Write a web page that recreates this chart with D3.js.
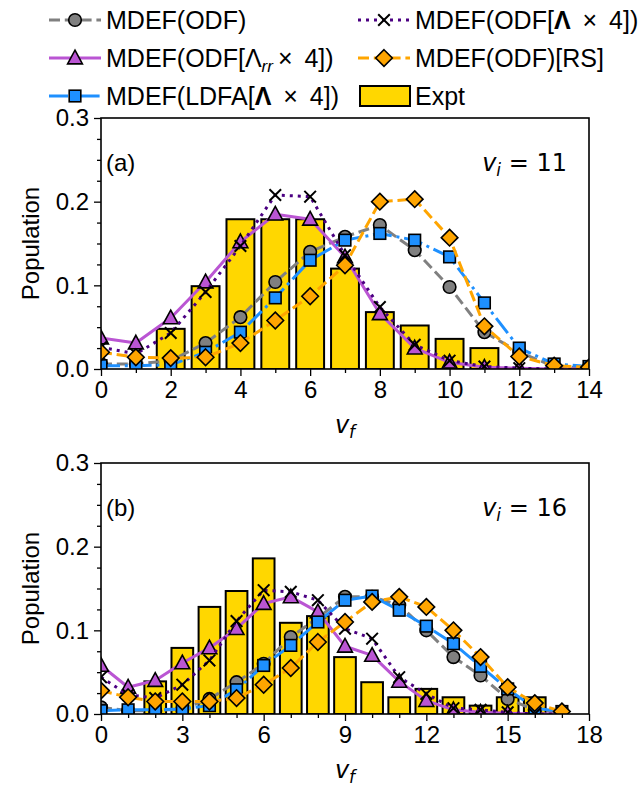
<!DOCTYPE html>
<html><head><meta charset="utf-8">
<script src="https://cdn.jsdelivr.net/npm/d3@7"></script>
<style>body{margin:0;background:#fff}</style>
</head><body><svg id="c" width="641" height="788"></svg>
<script>
// ---- data ----
const vfA = [0,1,2,3,4,5,6,7,8,9,10,11,12,13,14];
const exptA = [0,0,0.048,0.099,0.179,0.179,0.179,0.12,0.068,0.052,0.036,0.025,0,0,0];
const odfA = [0.006,0.006,0.01,0.031,0.062,0.104,0.14,0.158,0.172,0.142,0.098,0.044,0.02,0.003,0.001];
const lrrA = [0.037,0.031,0.061,0.104,0.152,0.185,0.179,0.134,0.066,0.025,0.008,0.002,0.001,0,0];
const ldfaA = [0.004,0.004,0.005,0.02,0.044,0.085,0.13,0.154,0.162,0.154,0.134,0.079,0.025,0.006,0.003];
const lamA = [0.026,0.018,0.043,0.092,0.147,0.208,0.206,0.136,0.074,0.029,0.01,0.003,0.001,0,0];
const rsA = [0.02,0.014,0.013,0.014,0.031,0.058,0.087,0.124,0.2,0.203,0.157,0.051,0.015,0.004,0.002];

const vfB = [0,1,2,3,4,5,6,7,8,9,10,11,12,13,14,15,16,17];
const exptB = [0,0,0.039,0.079,0.128,0.147,0.186,0.109,0.117,0.068,0.038,0.02,0.03,0.02,0.01,0.02,0.02,0];
const odfB = [0.008,0.004,0.004,0.006,0.018,0.038,0.06,0.092,0.115,0.14,0.14,0.13,0.1,0.068,0.046,0.018,0.005,0.002];
const lrrB = [0.058,0.032,0.04,0.061,0.079,0.102,0.132,0.14,0.122,0.081,0.07,0.039,0.016,0.005,0.002,0.001,0,0];
const ldfaB = [0.004,0.005,0.005,0.006,0.01,0.029,0.058,0.082,0.11,0.136,0.141,0.124,0.105,0.084,0.057,0.03,0.007,0.003];
const lamB = [0.044,0.023,0.019,0.035,0.064,0.111,0.148,0.146,0.136,0.102,0.09,0.044,0.024,0.007,0.005,0.002,0,0];
const rsB = [0.028,0.02,0.015,0.015,0.015,0.019,0.035,0.055,0.086,0.11,0.134,0.14,0.128,0.1,0.068,0.032,0.013,0.003];

const yTicks = [0.0,0.1,0.2,0.3];
const xTicksA = [0,2,4,6,8,10,12,14];
const xTicksB = [0,3,6,9,12,15,18];

// ---- styles ----
const styles = {
  odf:  {color:"#808080", dash:"11,4.8", marker:"circle", fill:"#808080"},
  lrr:  {color:"#BA55D3", dash:null, marker:"triangle", fill:"#BA55D3"},
  ldfa: {color:"#1E90FF", dash:"19,4.8,3,4.8", marker:"square", fill:"#1E90FF"},
  lam:  {color:"#4B0082", dash:"3,5", marker:"x", fill:"none"},
  rs:   {color:"#FFA500", dash:"11,4.8", marker:"diamond", fill:"#FFA500"}
};
const LW = 3;
const FS = 24;
const svg = d3.select("#c");
const FONT = "'Liberation Sans', Arial, sans-serif";
const MATH = "'DejaVu Sans', sans-serif";

function marker(g, type, x, y, st){
  if(type==="circle"){
    g.append("circle").attr("cx",x).attr("cy",y).attr("r",6.3).attr("fill",st.fill).attr("stroke","#000").attr("stroke-width",1.6);
  } else if(type==="square"){
    g.append("rect").attr("x",x-5.8).attr("y",y-5.8).attr("width",11.6).attr("height",11.6).attr("fill",st.fill).attr("stroke","#000").attr("stroke-width",1.6);
  } else if(type==="triangle"){
    const s=7.8;
    g.append("path").attr("d",`M${x},${y-s}L${x+s*0.95},${y+s*0.75}L${x-s*0.95},${y+s*0.75}Z`).attr("fill",st.fill).attr("stroke","#000").attr("stroke-width",1.6);
  } else if(type==="diamond"){
    const s=8.3;
    g.append("path").attr("d",`M${x},${y-s}L${x+s},${y}L${x},${y+s}L${x-s},${y}Z`).attr("fill",st.fill).attr("stroke","#000").attr("stroke-width",1.6);
  } else if(type==="x"){
    const s=5.8;
    g.append("path").attr("d",`M${x-s},${y-s}L${x+s},${y+s}M${x-s},${y+s}L${x+s},${y-s}`).attr("stroke","#000").attr("stroke-width",2);
  }
}

function panel(id, top, vf, expt, series, xMax, xTicks, label, vi){
  const left=101, right=589, bottom=top+251;
  const x = d3.scaleLinear().domain([0,xMax]).range([left,right]);
  const y = d3.scaleLinear().domain([0,0.3]).range([bottom,top]);
  const g = svg.append("g");
  const clipId = "clip"+id;
  svg.append("clipPath").attr("id",clipId).append("rect").attr("x",left).attr("y",top).attr("width",right-left).attr("height",bottom-top);
  const pg = g.append("g").attr("clip-path",`url(#${clipId})`);
  // bars
  const bw = x(0.8)-x(0);
  pg.selectAll("rect.bar").data(vf.map((v,i)=>({v,e:expt[i]})).filter(d=>d.e>0)).enter().append("rect")
    .attr("x",d=>x(d.v)-bw/2).attr("y",d=>y(d.e)).attr("width",bw).attr("height",d=>y(0)-y(d.e))
    .attr("fill","#FFD700").attr("stroke","#000").attr("stroke-width",2);
  // lines
  series.forEach(s=>{
    const st=styles[s.key];
    const line=d3.line().x((d,i)=>x(vf[i])).y(d=>y(d));
    pg.append("path").attr("d",line(s.vals)).attr("fill","none").attr("stroke",st.color).attr("stroke-width",LW)
      .attr("stroke-dasharray",st.dash).attr("stroke-linejoin","round");
    s.vals.forEach((d,i)=>marker(pg, st.marker, x(vf[i]), y(d), st));
  });
  // axes
  const ax = g.append("g").attr("transform",`translate(0,${bottom})`)
    .call(d3.axisBottom(x).tickValues(xTicks).tickSize(7).tickPadding(5).tickFormat(d3.format("d")));
  const axm = g.append("g").attr("transform",`translate(0,${bottom})`)
    .call(d3.axisBottom(x).tickValues(d3.range(0,xMax+1,1).filter(v=>!xTicks.includes(v))).tickSize(4).tickFormat(""));
  const ay = g.append("g").attr("transform",`translate(${left},0)`)
    .call(d3.axisLeft(y).tickValues(yTicks).tickSize(7).tickPadding(5).tickFormat(d3.format(".1f")));
  const aym = g.append("g").attr("transform",`translate(${left},0)`)
    .call(d3.axisLeft(y).tickValues(d3.range(0,0.3,0.025).filter((v,i)=>i%4!==0)).tickSize(4).tickFormat(""));
  [ax,axm,ay,aym].forEach(a=>{a.select(".domain").remove(); a.selectAll("line").attr("stroke","#000").attr("stroke-width",1.3);
    a.selectAll("text").attr("font-family",FONT).attr("font-size",FS).attr("fill","#000");});
  g.append("rect").attr("x",left).attr("y",top).attr("width",right-left).attr("height",bottom-top)
    .attr("fill","none").attr("stroke","#000").attr("stroke-width",1.6);
  // labels
  g.append("text").attr("x",106).attr("y",top+53).attr("font-family",FONT).attr("font-size",FS).text(label);
  const t = g.append("text").attr("x",567).attr("y",top+53).attr("text-anchor","end").attr("font-family",MATH).attr("font-size",FS);
  t.append("tspan").attr("font-style","italic").text("v");
  t.append("tspan").attr("font-style","italic").attr("font-size",17).attr("dy",5).text("i");
  t.append("tspan").attr("dy",-5).text(" = "+vi);
  const xl = g.append("text").attr("x",345).attr("y",bottom+64).attr("text-anchor","middle").attr("font-family",MATH).attr("font-size",FS);
  xl.append("tspan").attr("font-style","italic").text("v");
  xl.append("tspan").attr("font-style","italic").attr("font-size",17).attr("dy",5).text("f");
  g.append("text").attr("transform",`translate(39,${(top+bottom)/2}) rotate(-90)`).attr("text-anchor","middle")
    .attr("font-family",FONT).attr("font-size",FS).text("Population");
}

panel("a",118,vfA,exptA,[
  {key:"odf",vals:odfA},{key:"lrr",vals:lrrA},{key:"ldfa",vals:ldfaA},{key:"lam",vals:lamA},{key:"rs",vals:rsA}],14,xTicksA,"(a)",11);
panel("b",463,vfB,exptB,[
  {key:"odf",vals:odfB},{key:"lrr",vals:lrrB},{key:"ldfa",vals:ldfaB},{key:"lam",vals:lamB},{key:"rs",vals:rsB}],18,xTicksB,"(b)",16);

// ---- legend ----
const legItems = [
  {key:"odf", col:0,row:0,text:"MDEF(ODF)"},{key:"lrr",col:0,row:1,text:"MDEF(ODF["},{key:"ldfa",col:0,row:2,text:"MDEF(LDFA["},
  {key:"lam", col:1,row:0,text:"MDEF(ODF["},{key:"rs",col:1,row:1,text:"MDEF(ODF)[RS]"},{key:"expt",col:1,row:2,text:"Expt"}];
const leg = svg.append("g");
const colX=[49,358], rowY=[20,58,96];
legItems.forEach(it=>{
  const x0=colX[it.col], yc=rowY[it.row];
  if(it.key==="expt"){
    leg.append("rect").attr("x",x0+2).attr("y",yc-10).attr("width",50).attr("height",20).attr("fill","#FFD700").attr("stroke","#000").attr("stroke-width",2);
  } else {
    const st=styles[it.key];
    leg.append("line").attr("x1",x0).attr("x2",x0+52).attr("y1",yc).attr("y2",yc).attr("stroke",st.color).attr("stroke-width",LW).attr("stroke-dasharray",st.dash);
    marker(leg, st.marker, x0+26, yc, st);
  }
  const tx = leg.append("text").attr("x",x0+57).attr("y",yc+9).attr("font-family",FONT).attr("font-size",25);
  tx.append("tspan").text(it.text);
  if(it.key==="lrr"){
    tx.append("tspan").text("Λ");
    tx.append("tspan").attr("font-style","italic").attr("font-size",17).attr("dy",5).text("rr");
    tx.append("tspan").attr("dy",-5).attr("dx",5).text("×");
    tx.append("tspan").attr("dx",5).text(" 4])");
  } else if(it.key==="ldfa" || it.key==="lam"){
    tx.append("tspan").attr("font-weight","bold").text("Λ");
    tx.append("tspan").attr("dx",5).text(" ×");
    tx.append("tspan").attr("dx",5).text(" 4])");
  }
});
</script></body></html>
